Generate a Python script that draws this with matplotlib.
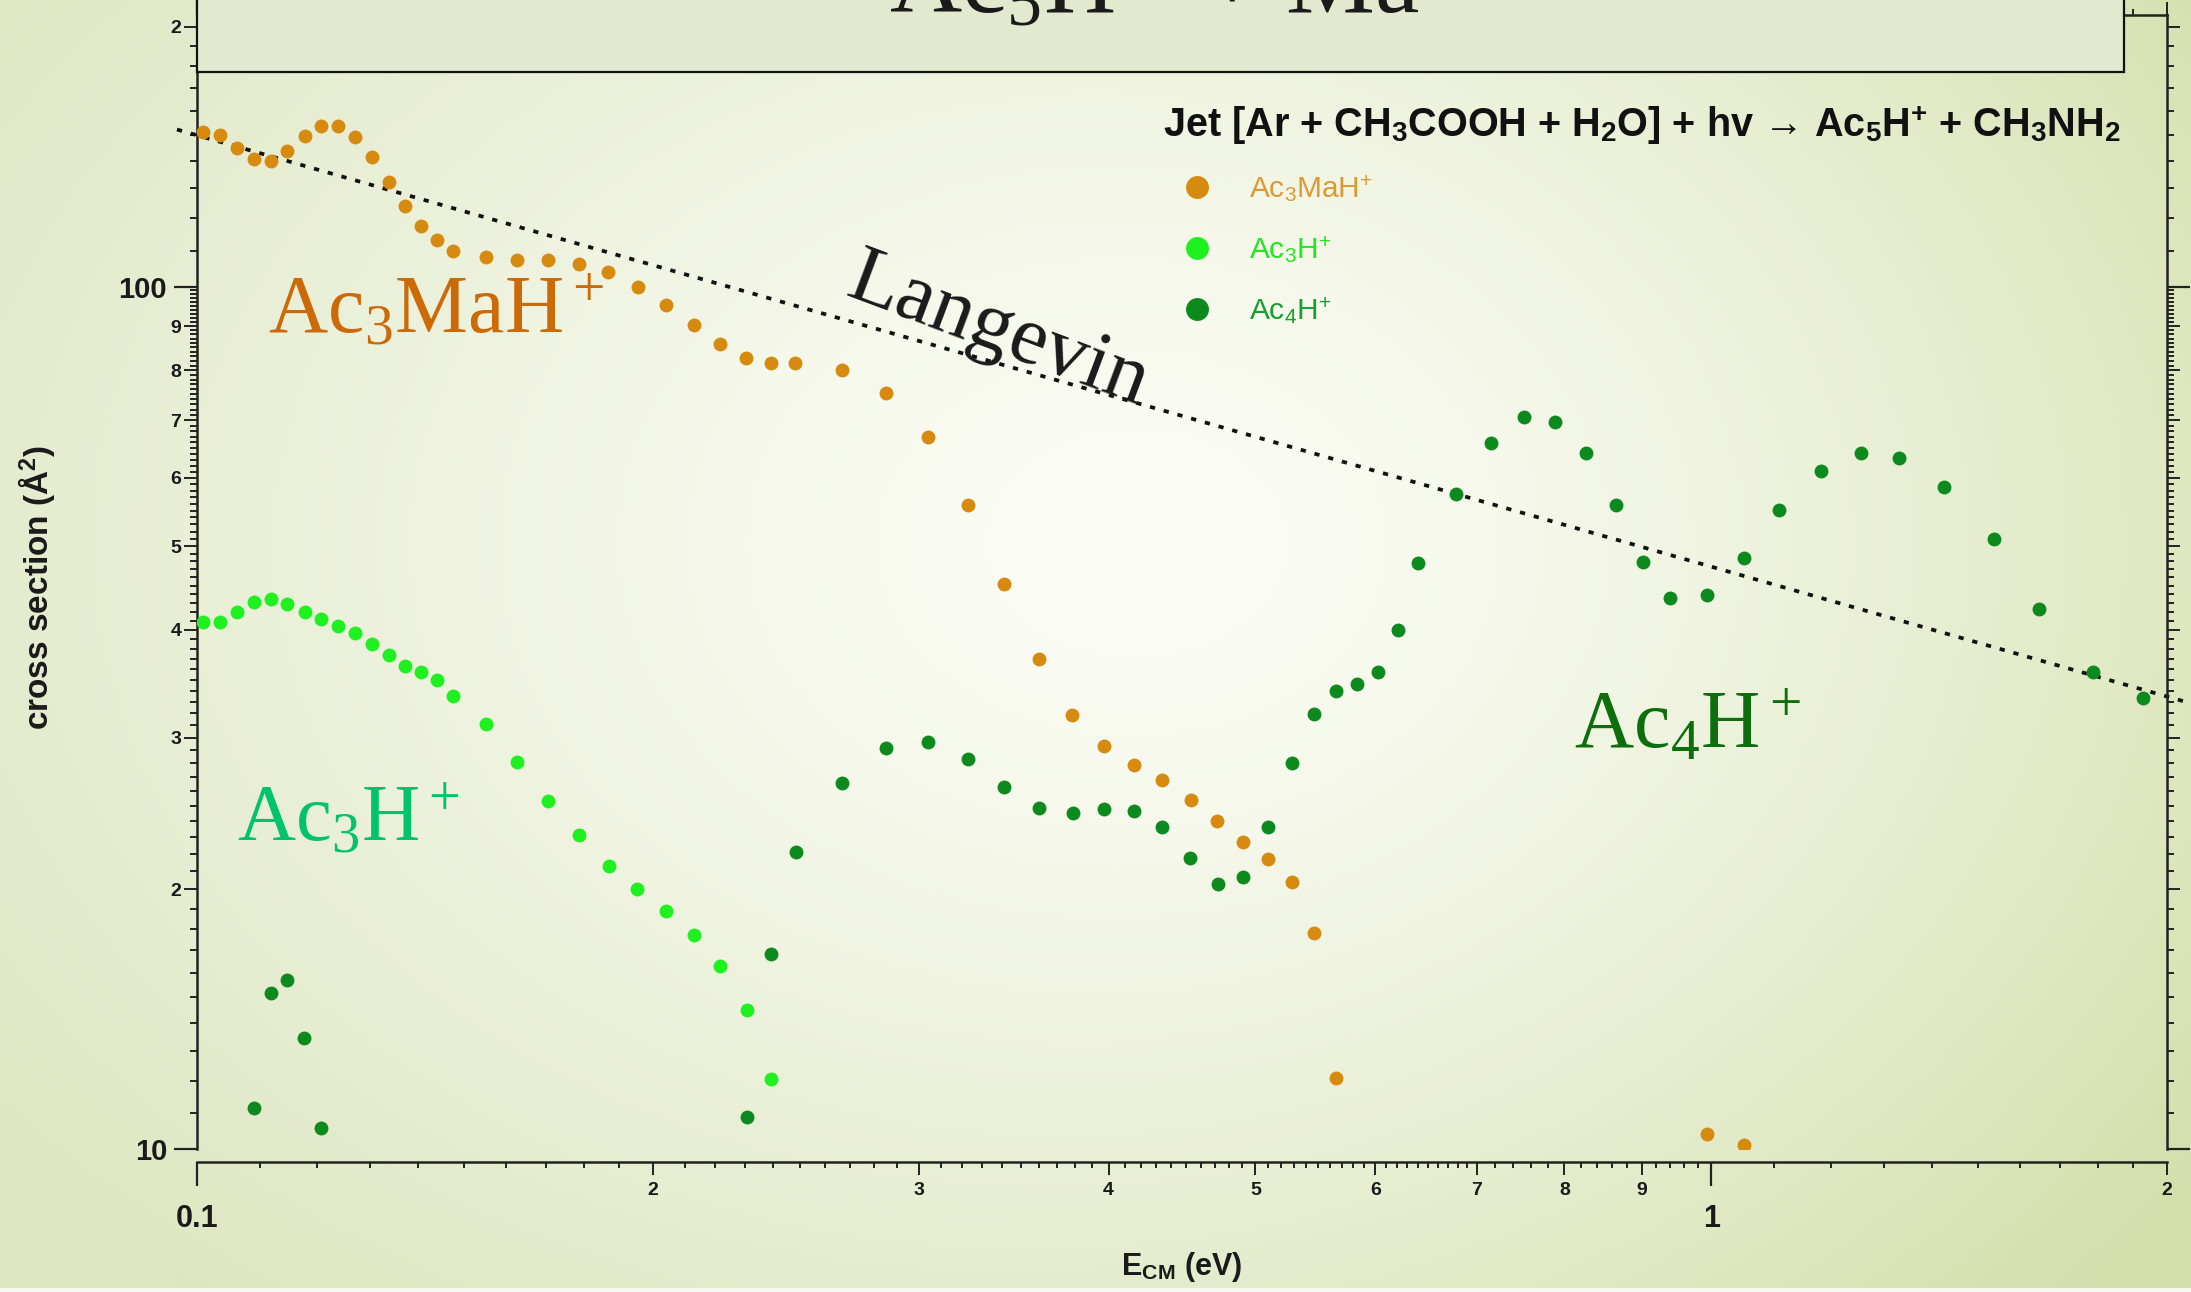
import numpy as np
import matplotlib
matplotlib.use("Agg")
import matplotlib.pyplot as plt
from matplotlib.patches import Rectangle
from matplotlib.colors import to_rgb

plt.rcParams["font.family"] = ["Liberation Sans", "DejaVu Sans"]
plt.rcParams["mathtext.fontset"] = "custom"
plt.rcParams["mathtext.rm"] = "Liberation Serif"
plt.rcParams["mathtext.it"] = "Liberation Serif:italic"
plt.rcParams["mathtext.bf"] = "Liberation Sans:bold"
plt.rcParams["mathtext.sf"] = "Liberation Sans"

# ---------------------------------------------------------------
# data (E_CM in eV, cross section in A^2)
# ---------------------------------------------------------------
e_ac3mah = [0.1009, 0.1035, 0.1062, 0.1090, 0.1119, 0.1147, 0.1178, 0.1207, 0.1239, 0.1272,
            0.1305, 0.1339, 0.1371, 0.1405, 0.1440, 0.1477, 0.1551, 0.1628, 0.1706, 0.1787,
            0.1868, 0.1954, 0.2039, 0.2128, 0.2216, 0.2305, 0.2394, 0.2481, 0.2668, 0.2850,
            0.3041, 0.3228, 0.3411, 0.3600, 0.3783, 0.3970, 0.4157, 0.4341, 0.4533, 0.4720,
            0.4908, 0.5096, 0.5284, 0.5470, 0.5654, 0.9931, 1.0505]
s_ac3mah = [151.2, 149.7, 144.8, 140.4, 139.8, 143.6, 149.4, 153.5, 153.6, 149.1,
            141.4, 132.3, 124.1, 117.5, 113.2, 110.0, 108.1, 107.3, 107.3, 106.2,
            103.9, 99.9, 95.3, 90.3, 85.8, 82.7, 81.6, 81.5, 80.0, 75.2,
            67.0, 55.8, 45.2, 37.0, 31.9, 29.3, 27.9, 26.8, 25.4, 24.0,
            22.7, 21.7, 20.4, 17.8, 12.1, 10.4, 10.1]

e_ac3h = [0.1009, 0.1035, 0.1062, 0.1090, 0.1119, 0.1147, 0.1178, 0.1207, 0.1239, 0.1272,
          0.1305, 0.1339, 0.1371, 0.1405, 0.1440, 0.1477, 0.1551, 0.1628, 0.1706, 0.1787,
          0.1870, 0.1952, 0.2039, 0.2128, 0.2216, 0.2307, 0.2393]
s_ac3h = [40.8, 40.8, 41.9, 43.1, 43.4, 42.9, 42.0, 41.2, 40.4, 39.7,
          38.5, 37.4, 36.3, 35.7, 35.0, 33.5, 31.1, 28.1, 25.3, 23.1,
          21.3, 20.0, 18.9, 17.7, 16.3, 14.5, 12.05]

e_ac4h = [0.1090, 0.1119, 0.1147, 0.1176, 0.1207, 0.2307, 0.2395, 0.2486, 0.2668, 0.2853,
          0.3041, 0.3228, 0.3411, 0.3600, 0.3788, 0.3970, 0.4157, 0.4341, 0.4527, 0.4722,
          0.4907, 0.5097, 0.5286, 0.5466, 0.5655, 0.5833, 0.6025, 0.6214, 0.6401, 0.6784,
          0.7150, 0.7525, 0.7889, 0.8270, 0.8647, 0.9016, 0.9389, 0.9935, 1.0515, 1.1083,
          1.1823, 1.2565, 1.3315, 1.4242, 1.5363, 1.6475, 1.7862, 1.9290]
s_ac4h = [11.15, 15.15, 15.70, 13.45, 10.57, 10.88, 16.83, 22.12, 26.59, 29.20,
          29.67, 28.31, 26.31, 24.86, 24.50, 24.76, 24.65, 23.64, 21.73, 20.28,
          20.69, 23.64, 28.05, 31.92, 34.00, 34.61, 35.77, 39.96, 47.75, 57.41,
          65.80, 70.53, 69.71, 64.17, 55.80, 47.96, 43.51, 43.89, 48.48, 55.07,
          61.10, 64.07, 63.32, 58.61, 50.93, 42.27, 35.77, 33.32]

# Langevin capture line (end points)
e_langevin = [0.097, 2.07]
s_langevin = [152.1, 32.9]

# tick positions / labels
x_big = [0.1, 1.0]
x_big_labels = ["0.1", "1"]
x_mid = [0.2, 0.3, 0.4, 0.5, 0.6, 0.7, 0.8, 0.9, 2.0]
x_mid_labels = ["2", "3", "4", "5", "6", "7", "8", "9", "2"]
y_big = [10, 100]
y_big_labels = ["10", "100"]
y_mid = [20, 30, 40, 50, 60, 70, 80, 90, 200]
y_mid_labels = ["2", "3", "4", "5", "6", "7", "8", "9", "2"]

C_MAH = "#d78a10"
C_AC3 = "#1ff01f"
C_AC4 = "#0d8a1e"

W, H = 2191, 1292
fig = plt.figure(figsize=(W / 100, H / 100), dpi=100)

# pale radial background
bg = fig.add_axes([0, 0, 1, 1], zorder=-10)
yy, xx = np.mgrid[0:1:300j, 0:1:500j]
d = np.sqrt(((xx - 0.52) / 0.62) ** 2 + ((yy - 0.42) / 0.80) ** 2)
t = np.clip(d, 0, 1) ** 1.3
edge = (np.array(to_rgb("#dfe7c4"))[None, None, :] * (1 - xx[..., None])
        + np.array(to_rgb("#d3dfab"))[None, None, :] * xx[..., None])
center = np.array(to_rgb("#fcfdf7"))
bg.imshow(center * (1 - t[..., None]) + edge * t[..., None], aspect="auto", extent=[0, 1, 1, 0])
bg.axis("off")
fig.add_artist(Rectangle((0, 0), 1, 4 / H, transform=fig.transFigure,
                         facecolor="#f6f8f0", edgecolor="none", zorder=-5))

ax = fig.add_axes([197 / W, (H - 1149) / H, 1970 / W, 1134 / H])
ax.set_facecolor("none")
ax.set_xscale("log")
ax.set_yscale("log")

h1, = ax.plot(e_ac3mah, s_ac3mah, "o", ls="none", ms=10, color=C_MAH, mec="none", zorder=3)
h2, = ax.plot(e_ac3h, s_ac3h, "o", ls="none", ms=10, color=C_AC3, mec="none", zorder=3)
h3, = ax.plot(e_ac4h, s_ac4h, "o", ls="none", ms=10, color=C_AC4, mec="none", zorder=3)
ax.plot(e_langevin, s_langevin, color="#111111", lw=2.7, dashes=(1.4, 2.4),
        dash_capstyle="butt", clip_on=False, zorder=2)

ax.set_xlim(0.1, 2.0)
ax.set_ylim(10, 206.5)

# spines first (moving a spine resets its ticks)
for sp in ax.spines.values():
    sp.set_linewidth(1.8)
    sp.set_color("#222222")
ax.spines["bottom"].set_position(("outward", 9.4))

# ticks: big (0.1, 1 / 10, 100), mid labelled, small unlabelled
x_small = sorted([round(v, 3) for v in np.arange(0.11, 0.695, 0.01) if round(v * 100) % 10]
                 + [0.72, 0.74, 0.76, 0.78, 0.82, 0.84, 0.86, 0.88, 0.92, 0.94, 0.96, 0.98]
                 + [1.1, 1.2, 1.3, 1.4, 1.5, 1.6, 1.7, 1.8, 1.9])
y_small = [v for v in range(11, 100) if v % 10] + list(range(110, 200, 10))

x_minor = sorted(x_mid + x_small)
x_minor_labels = [x_mid_labels[x_mid.index(v)] if v in x_mid else "" for v in x_minor]
y_minor = sorted(y_mid + y_small)
y_minor_labels = [y_mid_labels[y_mid.index(v)] if v in y_mid else "" for v in y_minor]

ax.set_xticks(x_big, labels=x_big_labels)
ax.set_xticks(x_minor, labels=x_minor_labels, minor=True)
ax.set_yticks(y_big, labels=y_big_labels)
ax.set_yticks(y_minor, labels=y_minor_labels, minor=True)

ax.tick_params(which="both", direction="out", top=True, right=True,
               color="#222222", labelcolor="#1a1a1a")
ax.tick_params(axis="x", which="major", length=17, width=1.6, labelsize=22, pad=13)
ax.tick_params(axis="y", which="major", length=16.5, width=1.6, labelsize=21, pad=5)
ax.tick_params(axis="x", which="minor", length=9.1, width=1.4, labelsize=14, pad=5)
ax.tick_params(axis="y", which="minor", length=9.4, width=1.4, labelsize=14, pad=2)

for tk, lab in zip(ax.xaxis.get_minor_ticks(len(x_minor)), x_minor_labels):
    if lab == "":
        tk.tick1line.set_markersize(4.3)
        tk.tick2line.set_markersize(4.3)
for tk, lab in zip(ax.yaxis.get_minor_ticks(len(y_minor)), y_minor_labels):
    if lab == "":
        tk.tick1line.set_markersize(4.8)
        tk.tick2line.set_markersize(4.8)
for lab in ax.get_xticklabels(which="both") + ax.get_yticklabels(which="both"):
    lab.set_fontweight("bold")

ax.set_ylabel("cross section (Å$^{\\mathbf{2}}$)", fontsize=24, fontweight="bold", color="#1a1a1a")
ax.yaxis.set_label_coords(-0.071, 0.4956)
ax.set_xlabel("E$_{\\mathbf{CM}}$ (eV)", fontsize=22, fontweight="bold", color="#1a1a1a")
ax.xaxis.set_label_coords(0.5, -0.089)

# big serif species labels
ax.text(0.1114, 88.3, r"$\mathrm{Ac_3MaH^+}$", fontsize=59, color="#cc6a08", va="baseline")
ax.text(0.1063, 22.7, r"$\mathrm{Ac_3H^+}$", fontsize=58, color="#00c36a", va="baseline")
ax.text(0.8112, 29.24, r"$\mathrm{Ac_4H^+}$", fontsize=59, color="#0d6e0d", va="baseline")
ax.text(0.338, 88.6, "Langevin", family="Liberation Serif", fontsize=60, rotation=-20.5,
        rotation_mode="anchor", ha="center", va="center", color="#1a1a1a")

# legend block
leg = ax.legend([h1, h2, h3],
                [r"Ac$_{\mathsf{3}}$MaH$^{\mathsf{+}}$", r"Ac$_{\mathsf{3}}$H$^{\mathsf{+}}$",
                 r"Ac$_{\mathsf{4}}$H$^{\mathsf{+}}$"],
                loc="upper left", bbox_to_anchor=(1183 / W, (H - 173) / H),
                bbox_transform=fig.transFigure, frameon=False, fontsize=21.5,
                markerscale=1.65, handlelength=0.95, handletextpad=1.25, labelspacing=1.02,
                borderpad=0, borderaxespad=0,
                labelcolor=["#dc9a34", "#1fe81f", "#16a032"])

fig.text(1163 / W, (H - 137) / H,
         "Jet [Ar + CH$_{\\mathbf{3}}$COOH + H$_{\\mathbf{2}}$O] + hv \u2192 "
         "Ac$_{\\mathbf{5}}$H$^{\\mathbf{+}}$ + CH$_{\\mathbf{3}}$NH$_{\\mathbf{2}}$",
         fontsize=28.5, fontweight="bold", va="baseline", color="#111111")

# title box, cut off at the top edge
fig.add_artist(Rectangle((197 / W, (H - 72) / H), (2124 - 197) / W, 0.2,
                         transform=fig.transFigure, facecolor="#e3e9cf",
                         edgecolor="#111111", lw=1.6, zorder=5))
fig.text(889 / W, (H - 13) / H, "Ac$_5$H$^+$ + Ma", family="Liberation Serif",
         fontsize=72, va="baseline", color="#1a1a1a", zorder=6)

fig.savefig("out.png", dpi=100)
